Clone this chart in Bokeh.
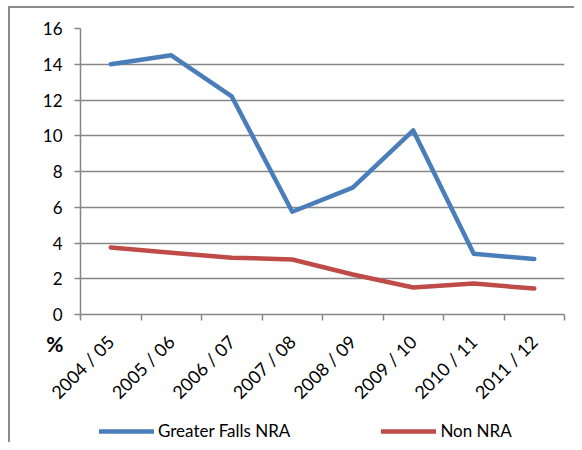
import math
from bokeh.plotting import figure
from bokeh.models import (FixedTicker, Range1d, Legend, LegendItem, Column)
from bokeh.embed import file_html
from bokeh.resources import INLINE

categories = ["2004 / 05", "2005 / 06", "2006 / 07", "2007 / 08",
              "2008 / 09", "2009 / 10", "2010 / 11", "2011 / 12"]
greater_falls = [14.0, 14.5, 12.2, 5.75, 7.1, 10.3, 3.4, 3.1]
non_nra = [3.75, 3.45, 3.18, 3.08, 2.24, 1.51, 1.73, 1.45]
y_ticks = [0, 2, 4, 6, 8, 10, 12, 14, 16]
series_names = ["Greater Falls NRA", "Non NRA"]
series_colors = ["#4A7EBB", "#BE4B48"]
unit_label = "%"

FONT = "Lato"
GRAY = "#878787"
W, H = 574, 442

xs = [i + 0.5 for i in range(len(categories))]

# ---- main chart ----
p = figure(width=W, height=H, output_backend="svg", toolbar_location=None,
           x_range=Range1d(0, len(categories)), y_range=Range1d(0, 16),
           min_border_left=80, min_border_right=10, min_border_top=28, min_border_bottom=128)
p.outline_line_color = None
p.background_fill_color = "white"
p.border_fill_color = "white"

for vals, col in zip([greater_falls, non_nra], series_colors):
    p.line(xs, vals, line_color=col, line_width=4.5, line_join="round", line_cap="round")

p.xaxis.ticker = FixedTicker(ticks=xs, minor_ticks=list(range(len(categories) + 1)))
p.xaxis.major_label_overrides = {x: c for x, c in zip(xs, categories)}
p.xaxis.major_tick_line_color = None
p.xaxis.minor_tick_line_color = GRAY
p.xaxis.minor_tick_out = 6
p.xaxis.minor_tick_in = 0
p.xaxis.minor_tick_line_width = 1.5
p.xaxis.axis_line_color = GRAY
p.xaxis.axis_line_width = 1.5
p.xaxis.major_label_orientation = math.pi / 4
p.xaxis.major_label_text_font = FONT
p.xaxis.major_label_text_font_size = "18px"
p.xaxis.major_label_text_color = "black"
p.xaxis.major_label_standoff = 18

p.yaxis.ticker = FixedTicker(ticks=y_ticks)
p.yaxis.minor_tick_line_color = None
p.yaxis.major_tick_line_color = GRAY
p.yaxis.major_tick_out = 6
p.yaxis.major_tick_in = 0
p.yaxis.major_tick_line_width = 1.5
p.yaxis.axis_line_color = GRAY
p.yaxis.axis_line_width = 1.5
p.yaxis.major_label_text_font = FONT
p.yaxis.major_label_text_font_size = "17px"
p.yaxis.major_label_text_color = "black"
p.yaxis.major_label_standoff = 12

p.xgrid.grid_line_color = None
p.ygrid.grid_line_color = GRAY
p.ygrid.grid_line_width = 1.5

# ---- transparent overlay (pixel rows, y downward) for the "%" unit label and legend ----
q = figure(width=W, height=H, output_backend="svg", toolbar_location=None,
           x_range=Range1d(0, W), y_range=Range1d(H, 0), x_axis_type=None,
           min_border_left=0, min_border_right=0, min_border_top=0, min_border_bottom=0)
q.outline_line_color = None
q.background_fill_color = None
q.border_fill_color = None
q.background_fill_alpha = 0
q.border_fill_alpha = 0
q.xgrid.visible = False
q.ygrid.visible = False
q.margin = (-H, 0, 0, 0)
q.styles = {"box-shadow": "inset 8px 6px 0 0 white, inset 10px 8px 0 0 #8a8a8a"}

# unit label "%" shown through an axis tick label in the left panel
q.yaxis.ticker = FixedTicker(ticks=[343])
q.yaxis.major_label_overrides = {343: unit_label}
q.yaxis.axis_line_color = None
q.yaxis.major_tick_line_color = None
q.yaxis.minor_tick_line_color = None
q.yaxis.major_tick_out = 0
q.yaxis.major_tick_in = 0
q.yaxis.major_label_standoff = 17
q.yaxis.major_label_text_font = FONT
q.yaxis.major_label_text_font_size = "21px"
q.yaxis.major_label_text_font_style = "bold"
q.yaxis.major_label_text_color = "black"

dummies = [q.line([float("nan")], [float("nan")], line_color=c, line_width=4.5, line_cap="round")
           for c in series_colors]
legend = Legend(items=[LegendItem(label=n, renderers=[r]) for n, r in zip(series_names, dummies)],
                orientation="horizontal", location=(19, 1),
                glyph_width=55, glyph_height=16, label_height=16,
                label_text_font=FONT, label_text_font_size="17px", label_text_color="black",
                label_standoff=4, spacing=91, padding=0, margin=0,
                border_line_color=None, background_fill_alpha=0)
q.add_layout(legend, "center")

layout = Column(children=[p, q])

open("out.html", "w").write(file_html(layout, INLINE))
